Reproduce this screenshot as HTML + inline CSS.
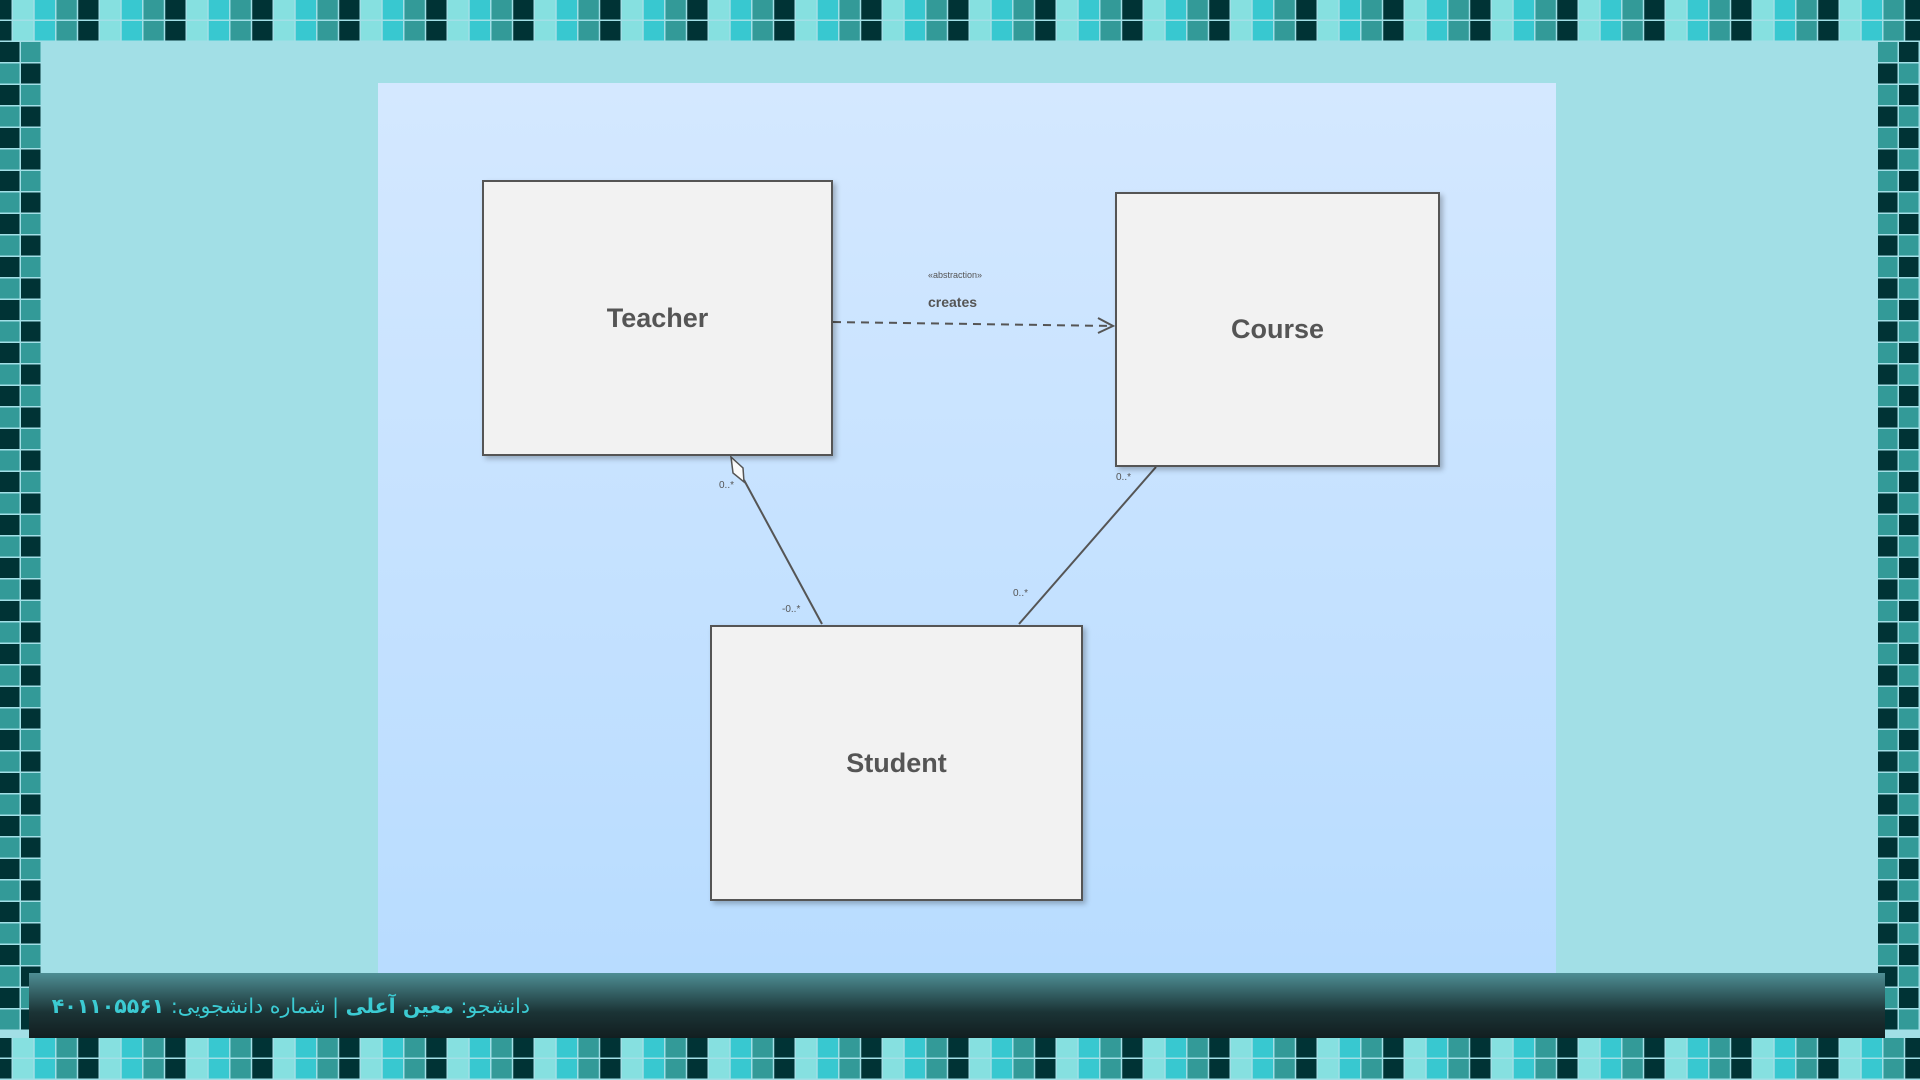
<!DOCTYPE html>
<html><head><meta charset="utf-8"><style>
html,body{margin:0;padding:0;width:1920px;height:1080px;overflow:hidden;background:#a2dfe6;font-family:"Liberation Sans","DejaVu Sans",sans-serif}
#bg{position:absolute;left:0;top:0}
.panel{position:absolute;left:378px;top:83px;width:1178px;height:892px;background:linear-gradient(#d4e8ff,#b8dcff)}
.box{position:absolute;background:#f2f2f2;border:2px solid #555;box-shadow:3px 3px 5px rgba(0,0,0,.25);display:flex;align-items:center;justify-content:center;font-weight:bold;font-size:27px;color:#555;box-sizing:border-box}
.bar{position:absolute;left:29px;top:973px;width:1856px;height:65px;background:linear-gradient(#4e8e94,#1b3436 60%,#121e20)}
.bar span{position:absolute;right:1355px;top:21px;direction:rtl;font-family:"DejaVu Sans",sans-serif;font-size:20.5px;color:#3ccbd3;white-space:nowrap}
</style></head><body>
<svg id="bg" width="1920" height="1080"></svg>
<div class="panel"></div>
<svg style="position:absolute;left:0;top:0" width="1920" height="1080">
<line x1="833" y1="322" x2="1113" y2="326" stroke="#555" stroke-width="2" stroke-dasharray="8,6"/>
<polyline points="1098,318 1113,326 1098,333" fill="none" stroke="#555" stroke-width="2"/>
<text x="928" y="278" font-size="9" fill="#555">«abstraction»</text>
<text x="928" y="307" font-size="14" font-weight="bold" fill="#555">creates</text>
<line x1="744" y1="480" x2="822" y2="624" stroke="#555" stroke-width="2"/>
<polygon points="731,457 743,468 744,482 733,473" fill="#fafafa" stroke="#555" stroke-width="1.5"/>
<line x1="1156" y1="467" x2="1019" y2="624" stroke="#555" stroke-width="2"/>
<g font-size="10" fill="#555">
<text x="719" y="488">0..*</text>
<text x="782" y="612">-0..*</text>
<text x="1116" y="480">0..*</text>
<text x="1013" y="596">0..*</text>
</g></svg>
<div class="box" style="left:482px;top:180px;width:351px;height:276px">Teacher</div>
<div class="box" style="left:1115px;top:192px;width:325px;height:275px">Course</div>
<div class="box" style="left:710px;top:625px;width:373px;height:276px">Student</div>
<div class="bar"><span>دانشجو: <b>معین آعلی</b> | شماره دانشجویی: <b>۴۰۱۱۰۵۵۶۱</b></span></div>
<script>
const svg=document.getElementById('bg');const ns='http://www.w3.org/2000/svg';
const C=['#86e0e0','#38c8d0','#339a98','#003335'];const T=21.75;
function r(x,y,w,h,c){const e=document.createElementNS(ns,'rect');e.setAttribute('x',x);e.setAttribute('y',y);e.setAttribute('width',w-1.5);e.setAttribute('height',h-1.5);e.setAttribute('fill',c);


svg.appendChild(e);}
for(let i=-1;i<90;i++){const x=13+i*T,c=C[((i%4)+4)%4];r(x,0,T,21,c);r(x,21,T,21,c);r(x,1038,T,21,c);r(x,1059,T,21,c);}
for(let j=0;j<46;j++){const y=42+j*21.5;const a=j%2?'#003335':'#339a98',b=j%2?'#339a98':'#003335';r(0,y,21,21.5,b);r(21,y,21,21.5,a);r(1878,y,21,21.5,a);r(1899,y,21,21.5,b);}
</script>
</body></html>
